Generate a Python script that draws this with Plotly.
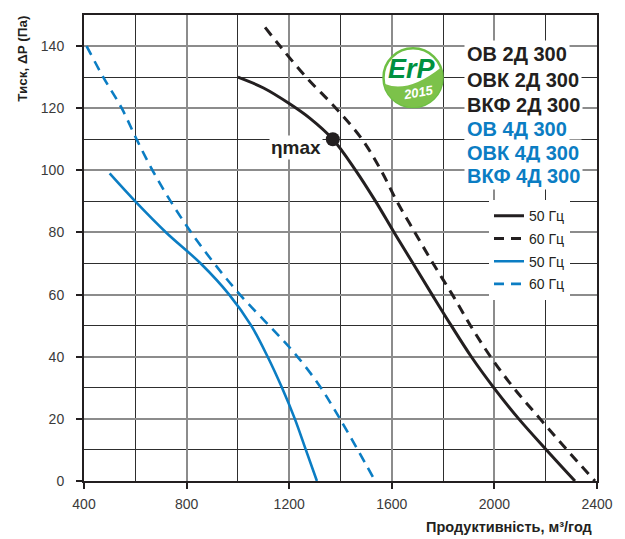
import plotly.graph_objects as go
import math

# ---------------- data ----------------
black50_x = [1000, 1100, 1200, 1280, 1370, 1459, 1537, 1609, 1683, 1757, 1832, 1910, 1998, 2095, 2203, 2314]
black50_y = [130, 126.5, 121.5, 116.8, 110, 100, 90, 80, 70, 60, 50, 40, 30, 20, 10, 0]

black60_x = [1106, 1164, 1266, 1382, 1484, 1558, 1620, 1690, 1761, 1836, 1907, 1985, 2075, 2178, 2283, 2392]
black60_y = [146, 140, 130, 120, 110, 100, 90, 80, 70, 60, 50, 40, 30, 20, 10, 0]

blue50_x = [500, 600, 720, 855, 966, 1052, 1116, 1172, 1222, 1265, 1308]
blue50_y = [99, 90, 80, 70, 60, 50, 40, 30, 20, 10, 0]

blue60_x = [410, 475, 547, 605, 667, 738, 818, 908, 1008, 1122, 1212, 1312, 1398, 1535]
blue60_y = [140, 130, 120, 110, 100, 90, 80, 70, 60, 50, 42, 31.4, 20, 0]

eta_x = [1370]
eta_y = [110]

legend_names = ["50 Гц", "60 Гц", "50 Гц", "60 Гц"]
models_black = ["ОВ 2Д 300", "ОВК 2Д 300", "ВКФ 2Д 300"]
models_blue = ["ОВ 4Д 300", "ОВК 4Д 300", "ВКФ 4Д 300"]

x_tickvals = [400, 800, 1200, 1600, 2000, 2400]
y_tickvals = [0, 20, 40, 60, 80, 100, 120, 140]

# ---------------- style ----------------
BLACK = "#231f20"
BLUE = "#0b7dc3"
FONT = "Liberation Sans, Arial, sans-serif"
OFF = 8  # page body margin
PW, PH = 625, 539
W, H = PW - OFF, PH - OFF
PL, PR, PT, PB = 84, 597, 13, 481  # plot area in page pixels


def px_x(p):
    return (p - PL) / (PR - PL)


def px_y(p):
    return (PB - p) / (PB - PT)


fig = go.Figure()
fig.add_trace(go.Scatter(x=black50_x, y=black50_y, mode="lines", name=legend_names[0],
                         line=dict(color=BLACK, width=3, shape="spline", smoothing=1.0),
                         legendgroup="a"))
fig.add_trace(go.Scatter(x=black60_x, y=black60_y, mode="lines", name=legend_names[1],
                         line=dict(color=BLACK, width=3, dash="10px,7px", shape="spline", smoothing=1.0),
                         legendgroup="b"))
fig.add_trace(go.Scatter(x=blue50_x, y=blue50_y, mode="lines", name=legend_names[2],
                         line=dict(color=BLUE, width=2.6, shape="spline", smoothing=1.0),
                         legendgroup="c"))
fig.add_trace(go.Scatter(x=blue60_x, y=blue60_y, mode="lines", name=legend_names[3],
                         line=dict(color=BLUE, width=2.6, dash="10px,7px", shape="spline", smoothing=1.0),
                         legendgroup="d"))
fig.add_trace(go.Scatter(x=eta_x, y=eta_y, mode="markers", showlegend=False,
                         marker=dict(color=BLACK, size=14)))

annotations = []
line_y = [52, 78, 103, 127, 152, 175]
for i, txt in enumerate(models_black + models_blue):
    annotations.append(dict(
        xref="paper", yref="paper", x=px_x(464), y=px_y(line_y[i]),
        xanchor="left", yanchor="middle", showarrow=False, text=txt,
        font=dict(family=FONT, size=20, color=BLACK if i < 3 else BLUE, weight="bold"),
        bgcolor="white", borderpad=2))

annotations.append(dict(
    xref="paper", yref="paper", x=px_x(323), y=px_y(146), xanchor="right", yanchor="middle",
    showarrow=False, text="ηmax", bgcolor="white", borderpad=1,
    font=dict(family=FONT, size=19, color=BLACK, weight="bold")))

annotations.append(dict(
    xref="paper", yref="paper", x=px_x(509), y=px_y(527), xanchor="center", yanchor="middle",
    showarrow=False, text="Продуктивність, м³/год",
    font=dict(family=FONT, size=14.5, color=BLACK, weight="bold")))
annotations.append(dict(
    xref="paper", yref="paper", x=px_x(23), y=px_y(57), xanchor="center", yanchor="middle",
    showarrow=False, text="Тиск, ΔP (Па)", textangle=-90,
    font=dict(family=FONT, size=13.5, color=BLACK, weight="bold")))

# ErP logo
cx, cy, r = 413, 76, 29.5
shapes = []
shapes.append(dict(type="circle", xref="paper", yref="paper", layer="above",
                   x0=px_x(cx - r), x1=px_x(cx + r), y0=px_y(cy + r), y1=px_y(cy - r),
                   fillcolor="white", line=dict(color="#6dbf44", width=2.5)))
pts = []
n = 30
for k in range(n + 1):
    ang = math.radians(192 + (380 - 192) * k / n)
    pts.append((cx + r * math.cos(ang), cy - r * math.sin(ang)))
path = "M {:.5f},{:.5f} ".format(px_x(pts[0][0]), px_y(pts[0][1]))
for (a, b) in pts[1:]:
    path += "L {:.5f},{:.5f} ".format(px_x(a), px_y(b))
path += "Q {:.5f},{:.5f} {:.5f},{:.5f} Z".format(px_x(408), px_y(92), px_x(pts[0][0]), px_y(pts[0][1]))
shapes.append(dict(type="path", xref="paper", yref="paper", layer="above", path=path,
                   fillcolor="#7cc24a", line=dict(width=0)))
annotations.append(dict(
    xref="paper", yref="paper", x=px_x(412), y=px_y(67), xanchor="center", yanchor="middle",
    showarrow=False, text="<i>ErP</i>",
    font=dict(family=FONT, size=27, color="#00913f", weight="bold")))
annotations.append(dict(
    xref="paper", yref="paper", x=px_x(418), y=px_y(91), xanchor="center", yanchor="middle",
    showarrow=False, text="<i>2015</i>", textangle=-10,
    font=dict(family=FONT, size=13, color="white", weight="bold")))

axis_common = dict(
    showline=True, linecolor=BLACK, linewidth=2, mirror=True,
    ticks="outside", ticklen=6, tickcolor=BLACK, tickwidth=1.5,
    gridcolor="#8c8c8c", gridwidth=1.5, zeroline=False,
    tickfont=dict(family=FONT, size=14, color="#3a3a3a"),
)

fig.update_layout(
    width=W, height=H,
    margin=dict(l=PL - OFF, r=PW - PR, t=PT - OFF, b=PH - PB),
    paper_bgcolor="white", plot_bgcolor="white",
    xaxis=dict(range=[400, 2400], tickvals=x_tickvals, ticklabelstandoff=3,
               minor=dict(dtick=200, tick0=400, showgrid=True, gridcolor="#2e2e2e", gridwidth=1, ticks=""),
               **axis_common),
    yaxis=dict(range=[0, 150], tickvals=y_tickvals, ticklabelstandoff=9,
               minor=dict(dtick=10, tick0=0, showgrid=True, gridcolor="#2e2e2e", gridwidth=1, ticks=""),
               **axis_common),
    legend=dict(x=px_x(489), y=px_y(199), xanchor="left", yanchor="top",
                bgcolor="white", borderwidth=0, tracegroupgap=1.5,
                font=dict(family=FONT, size=14, color=BLACK), itemwidth=30),
    annotations=annotations,
    shapes=shapes,
    showlegend=True,
)

fig.write_html("out.html")
